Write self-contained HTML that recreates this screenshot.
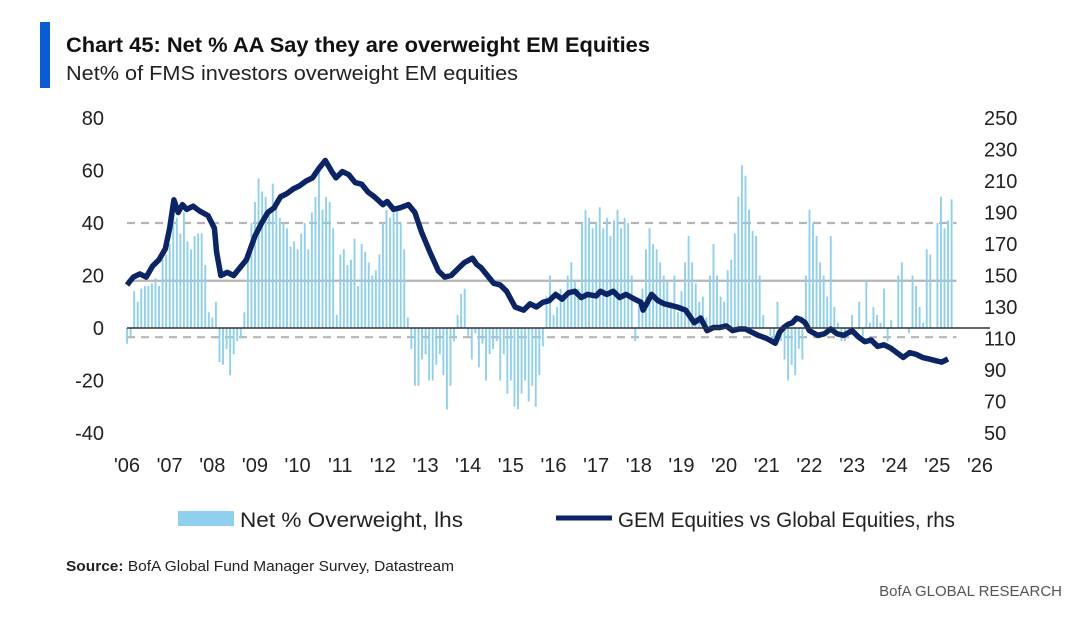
<!DOCTYPE html>
<html><head><meta charset="utf-8"><style>
body{margin:0;background:#fff;width:1080px;height:620px;overflow:hidden;font-family:"Liberation Sans",sans-serif;}
svg text{font-family:"Liberation Sans",sans-serif;}
</style></head><body>
<svg id="chart" width="1080" height="620">
<rect x="40" y="22" width="10" height="66" fill="#0a5bd6"/>
<text x="66" y="52" font-size="21" font-weight="bold" fill="#111" textLength="584" lengthAdjust="spacingAndGlyphs">Chart 45: Net % AA Say they are overweight EM Equities</text>
<text x="66" y="80" font-size="20" fill="#222" textLength="452" lengthAdjust="spacingAndGlyphs">Net% of FMS investors overweight EM equities</text>
<g id="grid"></g><g id="bars"></g><g id="line"></g><g id="axes"></g>
<g>
<rect x="178" y="511" width="56" height="15" fill="#8fd0ef"/>
<text x="240" y="527" font-size="21" fill="#222" textLength="223" lengthAdjust="spacingAndGlyphs">Net % Overweight, lhs</text>
<line x1="556" y1="518" x2="612" y2="518" stroke="#0b2466" stroke-width="5"/>
<text x="618" y="527" font-size="21" fill="#222" textLength="337" lengthAdjust="spacingAndGlyphs">GEM Equities vs Global Equities, rhs</text>
</g>
<text x="66" y="571" font-size="15" fill="#222" textLength="388" lengthAdjust="spacingAndGlyphs"><tspan font-weight="bold">Source:</tspan> BofA Global Fund Manager Survey, Datastream</text>
<text x="1062" y="596" font-size="15" fill="#555" text-anchor="end">BofA GLOBAL RESEARCH</text>
</svg>
<script>
const barValues=[
-6,-3,14,10,15,16,16,17,19,16,26,28,
32,50,42,36,44,33,30,35,36,36,24,6,
4,10,-13,-14,-8,-18,-10,-5,-4,6,28,40,
48,57,52,50,44,55,48,42,40,38,31,33,
30,36,40,30,44,50,62,45,50,48,38,5,
28,30,24,26,34,16,32,29,25,20,22,28,
40,45,42,46,45,40,30,4,-8,-22,-22,-12,
-10,-20,-20,-14,-10,-18,-31,-22,-5,5,13,15,
-3,-12,-2,-15,-6,-20,-10,-8,-5,-20,-10,-25,
-20,-30,-31,-25,-20,-28,-22,-30,-18,-7,12,20,
5,8,15,12,20,25,18,15,40,45,42,38,
40,46,38,42,35,41,45,38,42,40,20,-5,
10,15,30,38,32,30,25,20,18,10,20,6,
14,25,35,25,17,10,12,4,20,32,20,12,
10,22,26,36,50,62,58,45,37,35,20,5,
0,-3,-5,10,-5,-12,-20,-14,-18,-8,-12,20,
45,40,35,25,20,12,35,8,2,-5,-5,-2,
5,0,10,-3,18,2,8,5,2,15,-5,3,
0,20,25,0,-2,20,16,8,2,30,28,0,
40,50,38,41,49];
const lineDates=[2006.0,2006.15,2006.3,2006.45,2006.6,2006.75,2006.9,2007.0,2007.1,2007.2,2007.3,2007.4,2007.55,2007.7,2007.9,2008.05,2008.1,2008.2,2008.35,2008.5,2008.65,2008.8,2009.0,2009.15,2009.3,2009.45,2009.6,2009.75,2009.9,2010.05,2010.2,2010.35,2010.5,2010.65,2010.8,2010.9,2011.05,2011.2,2011.35,2011.5,2011.65,2011.8,2012.0,2012.1,2012.25,2012.4,2012.6,2012.75,2012.9,2013.1,2013.3,2013.45,2013.6,2013.75,2013.9,2014.1,2014.2,2014.3,2014.45,2014.6,2014.75,2014.9,2015.1,2015.3,2015.45,2015.6,2015.75,2015.9,2016.05,2016.2,2016.35,2016.5,2016.65,2016.8,2017.0,2017.1,2017.25,2017.4,2017.55,2017.7,2017.9,2018.05,2018.1,2018.3,2018.45,2018.6,2018.75,2018.9,2019.1,2019.3,2019.45,2019.6,2019.75,2019.9,2020.05,2020.2,2020.35,2020.5,2020.65,2020.8,2021.0,2021.2,2021.3,2021.4,2021.5,2021.6,2021.7,2021.8,2021.9,2022.0,2022.2,2022.35,2022.5,2022.65,2022.8,2023.0,2023.15,2023.3,2023.45,2023.6,2023.75,2023.9,2024.05,2024.2,2024.35,2024.5,2024.65,2024.8,2024.95,2025.1,2025.25,2025.4];
const lineValues=[144,149,151,149,156,160,167,180,198,190,195,192,194,191,188,180,165,150,152,150,155,160,175,183,190,193,200,202,205,207,210,212,218,223,216,212,216,214,209,208,203,200,195,197,192,193,195,190,178,165,153,149,150,154,158,161,157,155,150,145,144,140,130,128,132,130,133,134,138,135,139,140,136,138,137,140,138,140,136,138,135,133,128,138,134,132,131,130,128,120,123,115,117,117,118,115,116,116,114,112,110,107,114,117,119,120,123,122,120,115,112,113,116,113,112,115,111,108,109,105,106,104,101,98,101,100,98,97,96,95,97];
const leftTicks=[80,60,40,20,0,-20,-40];
const rightTicks=[250,230,210,190,170,150,130,110,90,70,50];
const xTickLabels=["'06","'07","'08","'09","'10","'11","'12","'13","'14","'15","'16","'17","'18","'19","'20","'21","'22","'23","'24","'25","'26"];
const refLines=[40,18,-3.5];
const NS='http://www.w3.org/2000/svg';
const X0=127,X1=980,T0=2006,T1=2026,YT=118,YB=433;
const xs=t=>X0+(t-T0)/(T1-T0)*(X1-X0);
const yl=v=>YT+(80-v)/120*(YB-YT);
const yr=v=>YT+(250-v)/200*(YB-YT);
function mk(tag,attrs,parent){const e=document.createElementNS(NS,tag);for(const k in attrs)e.setAttribute(k,attrs[k]);document.getElementById(parent).appendChild(e);return e;}
refLines.forEach((v,i)=>{const e=mk('line',{x1:xs(2006),x2:xs(2025.45),y1:yl(v),y2:yl(v),stroke:'#b5b5b5','stroke-width':2.2,'stroke-dasharray':i==1?'':'8,6'},'grid');

});
barValues.forEach((v,i)=>{const t=T0+i/12;const y0=yl(0),y1=yl(v);const e=mk('rect',{x:xs(t)-0.9,y:Math.min(y0,y1),width:1.9,height:Math.abs(y1-y0),fill:'#8fd0ef'},'bars');

});
const z=mk('line',{x1:xs(2006),x2:990,y1:yl(0),y2:yl(0),stroke:'#333','stroke-width':1.5},'grid');


document.getElementById('grid').parentNode.appendChild(z);
const p=mk('polyline',{points:lineDates.map((d,i)=>xs(d)+','+yr(lineValues[i])).join(' '),fill:'none',stroke:'#0b2466','stroke-width':5.5,'stroke-linejoin':'round'},'line');


leftTicks.forEach(v=>{const e=mk('text',{x:104,y:yl(v)+7,'font-size':20,fill:'#222','text-anchor':'end'},'axes');e.textContent=v;

});
rightTicks.forEach(v=>{const e=mk('text',{x:984,y:yr(v)+7,'font-size':20,fill:'#222'},'axes');e.textContent=v;

});
xTickLabels.forEach((s,i)=>{const e=mk('text',{x:xs(T0+i),y:472,'font-size':20,fill:'#222','text-anchor':'middle'},'axes');e.textContent=s;

});
</script>
</body></html>
